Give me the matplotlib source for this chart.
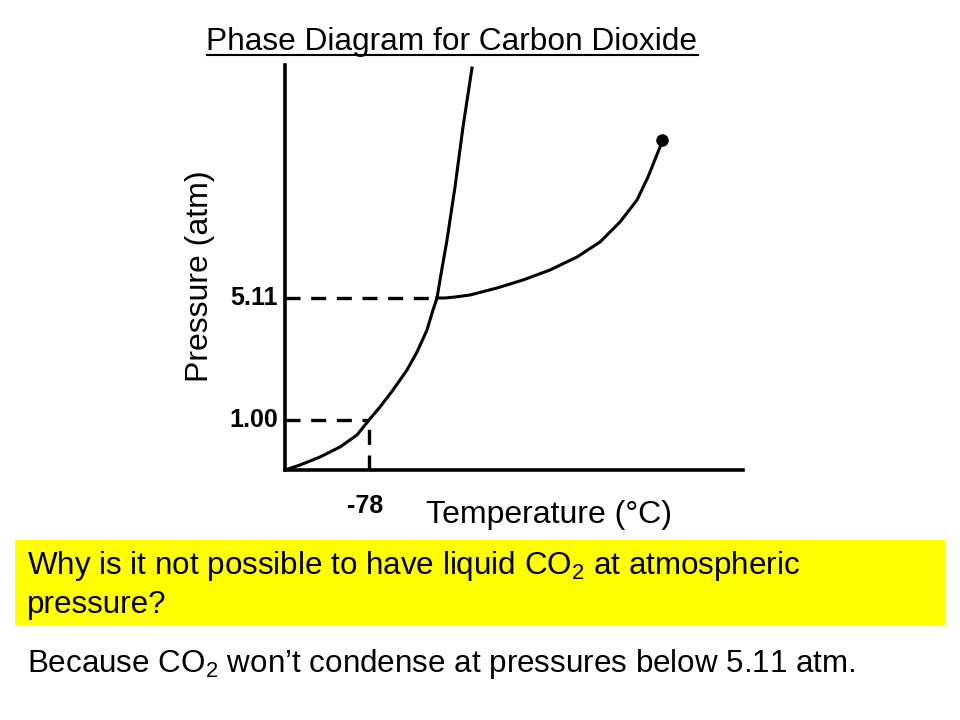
import numpy as np
import matplotlib.pyplot as plt
from matplotlib.patches import Rectangle
from matplotlib.lines import Line2D

plt.rcParams['font.family'] = ['Liberation Sans', 'DejaVu Sans']
plt.rcParams['mathtext.fontset'] = 'custom'
plt.rcParams['mathtext.rm'] = 'Liberation Sans'

# schematic curve points (arbitrary units, origin at the axes corner)
sublimation_T = [0, 15, 35, 55, 72, 84, 95, 108, 122, 132, 142, 148, 152]
sublimation_P = [0, 5, 13, 23, 35, 50, 63, 80, 100, 118, 140, 160, 172]
melting_T = [152, 155, 162, 170, 178, 187]
melting_P = [172, 190, 230, 283, 343, 402]
vapor_T = [152, 160, 170, 185, 212, 238, 265, 292, 315, 335, 352, 363, 373, 377]
vapor_P = [172, 172, 173, 175, 182, 190, 200, 213, 228, 248, 270, 293, 318, 328]
critical_T, critical_P = 377, 330
triple_T, triple_P = 152, 172
one_atm_T, one_atm_P = 84, 50
p_labels = ["5.11", "1.00"]
t_label = "-78"

W, H = 960, 720
fig = plt.figure(figsize=(9.6, 7.2), dpi=100)
ax = fig.add_axes([285 / W, 1 - 470 / H, 458 / W, 405 / H])
ax.set_xlim(0, 458)
ax.set_ylim(0, 405)
for s in ['top', 'right']:
    ax.spines[s].set_visible(False)
for s in ['left', 'bottom']:
    ax.spines[s].set_linewidth(2.6)
ax.set_xticks([])
ax.set_yticks([])
ax.patch.set_alpha(0)

lw = 2.2
ax.plot(sublimation_T, sublimation_P, color='black', lw=lw, solid_joinstyle='round')
ax.plot(melting_T, melting_P, color='black', lw=lw, solid_joinstyle='round')
ax.plot(vapor_T, vapor_P, color='black', lw=lw, solid_joinstyle='round')
ax.plot([critical_T], [critical_P], 'o', color='black', ms=8)

dash = dict(color='black', lw=2.4, dashes=(4.5, 3.2), clip_on=False)
ax.plot([0, triple_T], [triple_P, triple_P], **dash)
ax.plot([0, one_atm_T], [one_atm_P, one_atm_P], **dash)
ax.plot([one_atm_T, one_atm_T], [0, one_atm_P], **dash)

ax.text(-7, triple_P, p_labels[0], ha='right', va='center', fontsize=18, fontweight='bold')
ax.text(-7, one_atm_P, p_labels[1], ha='right', va='center', fontsize=18, fontweight='bold')
ax.text(one_atm_T - 4, -36, t_label, ha='center', va='center', fontsize=18, fontweight='bold')

fig.text(549 / W, 1 - 515 / H, "Temperature (°C)", ha='center', va='center', fontsize=23)
fig.text(200 / W, 1 - 276 / H, "Pressure (atm)", ha='center', va='center', fontsize=23, rotation=90)

title = fig.text(452 / W, 1 - 50 / H, "Phase Diagram for Carbon Dioxide", ha='center', va='baseline', fontsize=22.8)
fig.canvas.draw()
bb = title.get_window_extent().transformed(fig.transFigure.inverted())
fig.add_artist(Line2D([bb.x0, bb.x1], [1 - 55 / H, 1 - 55 / H], color='black', lw=1.5, transform=fig.transFigure))

fig.add_artist(Rectangle((15 / W, 1 - 625 / H), 930 / W, 85 / H, transform=fig.transFigure,
                         facecolor='#ffff00', edgecolor='none'))
fig.text(27 / W, 1 - 566 / H, r"Why is it not possible to have liquid CO$_2$ at atmospheric",
         ha='left', va='center', fontsize=22.6)
fig.text(27 / W, 1 - 605 / H, "pressure?", ha='left', va='center', fontsize=22.6)
fig.text(27 / W, 1 - 664 / H, r"Because CO$_2$ won’t condense at pressures below 5.11 atm.",
         ha='left', va='center', fontsize=22.6)

fig.savefig('out.png', dpi=100)
